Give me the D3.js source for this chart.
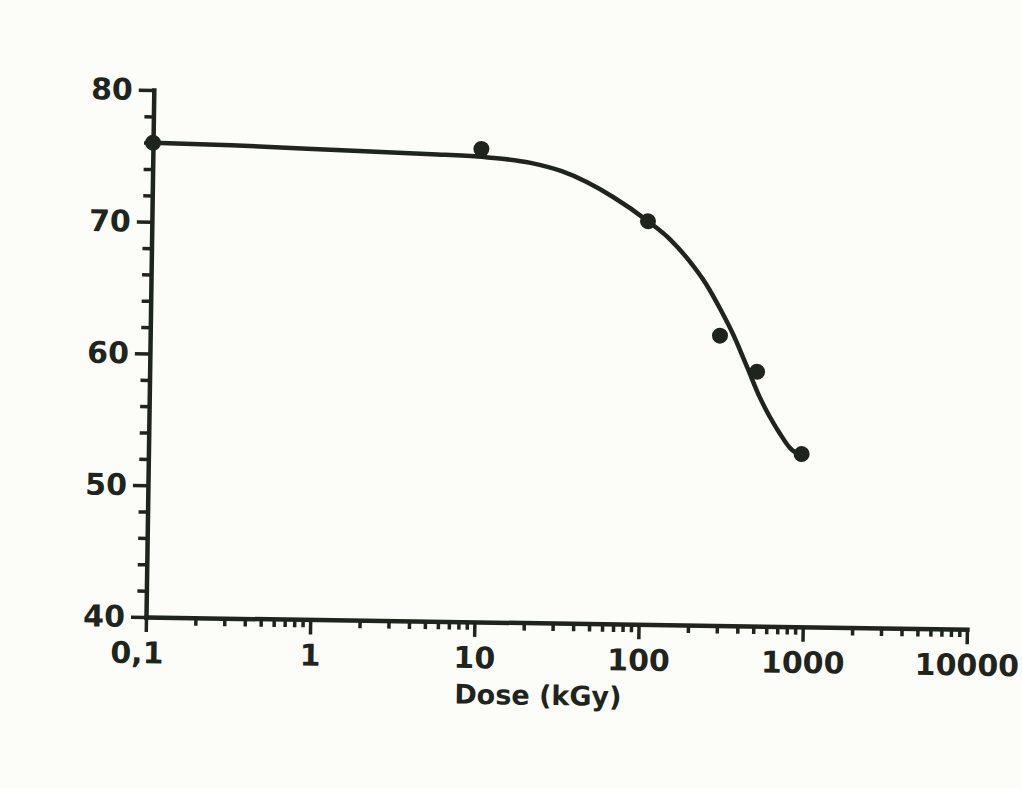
<!DOCTYPE html>
<html>
<head>
<meta charset="utf-8">
<script src="https://cdn.jsdelivr.net/npm/d3@7"></script>
<style>
  body { margin: 0; background: #fcfcf8; }
  svg { display: block; }
</style>
</head>
<body>
<div id="wrapper"></div>
<script>
// measured points (dose in kGy, value)
const pointDoses = [0.1, 10, 105, 295, 500, 950];
const pointValues = [76.0, 75.9, 70.6, 62.0, 59.3, 53.1];

// hand drawn fit
const curveDoses = [0.1, 0.3, 1.8, 5, 10, 20, 31, 64, 105, 145, 190, 240, 295, 355, 436, 525, 603, 692, 813, 955];
const curveValues = [76.0, 75.9, 75.6, 75.45, 75.3, 74.9, 74.3, 72.4, 70.6, 69.2, 67.6, 65.9, 64.0, 62.1, 59.6, 57.3, 55.9, 54.7, 53.5, 53.0];

const xMajorTicks = [0.1, 1, 10, 100, 1000, 10000];
const xTickLabels = ["0,1", "1", "10", "100", "1000", "10000"];
const yMajorTicks = [40, 50, 60, 70, 80];

function buildPlot() {
    const ink = "#1f241c";
    var dimension = {
        width: 1022,
        height: 788,
        origin: { x: 146, y: 617 },
        boundedWidth: 821,
        boundedHeight: 527
    };

    const svg = d3.select("#wrapper").append("svg")
        .attr("width", dimension.width)
        .attr("height", dimension.height);

    // the scan is turned a little, so the whole plot is too
    const bounded = svg.append("g")
        .attr("transform", `translate(${dimension.origin.x},${dimension.origin.y}) rotate(0.85)`);

    const xScaler = d3.scaleLog()
        .domain([0.1, 10000])
        .range([0, dimension.boundedWidth]);

    const yScaler = d3.scaleLinear()
        .domain([40, 80])
        .range([0, -dimension.boundedHeight]);

    // all decade sub ticks
    const xAllTicks = [];
    xMajorTicks.slice(0, -1).forEach(t => {
        for (let k = 1; k < 10; k++) xAllTicks.push(+(t * k).toPrecision(3));
    });
    xAllTicks.push(10000);
    const yAllTicks = d3.range(40, 81, 2);

    const isMajorX = v => xMajorTicks.some(t => Math.abs(t - v) < 1e-9);

    var x_axis = d3.axisBottom(xScaler)
        .tickValues(xAllTicks)
        .tickSize(15)
        .tickSizeOuter(0)
        .tickPadding(10)
        .tickFormat(d => {
            const i = xMajorTicks.findIndex(t => Math.abs(t - d) < 1e-9);
            return i >= 0 ? xTickLabels[i] : "";
        });

    var y_axis = d3.axisLeft(yScaler)
        .tickValues(yAllTicks)
        .tickSize(15)
        .tickSizeOuter(0)
        .tickPadding(6)
        .tickFormat(d => yMajorTicks.includes(d) ? d : "");

    const xg = bounded.append("g").call(x_axis);
    const yg = bounded.append("g").call(y_axis);

    [xg, yg].forEach(g => {
        g.attr("font-family", "DejaVu Sans, sans-serif")
            .attr("font-size", 30)
            .attr("font-weight", "bold");
        g.select(".domain").attr("stroke", ink).attr("stroke-width", 4.5).attr("stroke-linecap", "square");
        g.selectAll(".tick line").attr("stroke", ink).attr("stroke-width", 3.5);
        g.selectAll(".tick text").attr("fill", ink);
    });

    // shorter minor ticks
    xg.selectAll(".tick").filter(d => !isMajorX(d)).select("line").attr("y2", 8);
    yg.selectAll(".tick").filter(d => !yMajorTicks.includes(d)).select("line").attr("x2", -9);

    // "0,1" sits a bit left of its tick
    xg.selectAll(".tick").filter(d => d === 0.1).select("text").attr("dx", -9);

    var lineGenerator = d3.line()
        .x((d, i) => xScaler(curveDoses[i]))
        .y((d, i) => yScaler(curveValues[i]))
        .curve(d3.curveMonotoneX);

    bounded.append("path")
        .attr("d", lineGenerator(curveDoses))
        .attr("fill", "none")
        .attr("stroke", ink)
        .attr("stroke-width", 4.5)
        .attr("stroke-linecap", "round");

    bounded.selectAll("circle")
        .data(pointDoses)
        .join("circle")
        .attr("cx", d => xScaler(d))
        .attr("cy", (d, i) => yScaler(pointValues[i]))
        .attr("r", 8)
        .attr("fill", ink);

    bounded.append("text")
        .attr("x", 393)
        .attr("y", 82)
        .attr("text-anchor", "middle")
        .attr("font-family", "DejaVu Sans, sans-serif")
        .attr("font-size", 27)
        .attr("font-weight", "bold")
        .attr("fill", ink)
        .text("Dose (kGy)");
}

buildPlot();
</script>
</body>
</html>
